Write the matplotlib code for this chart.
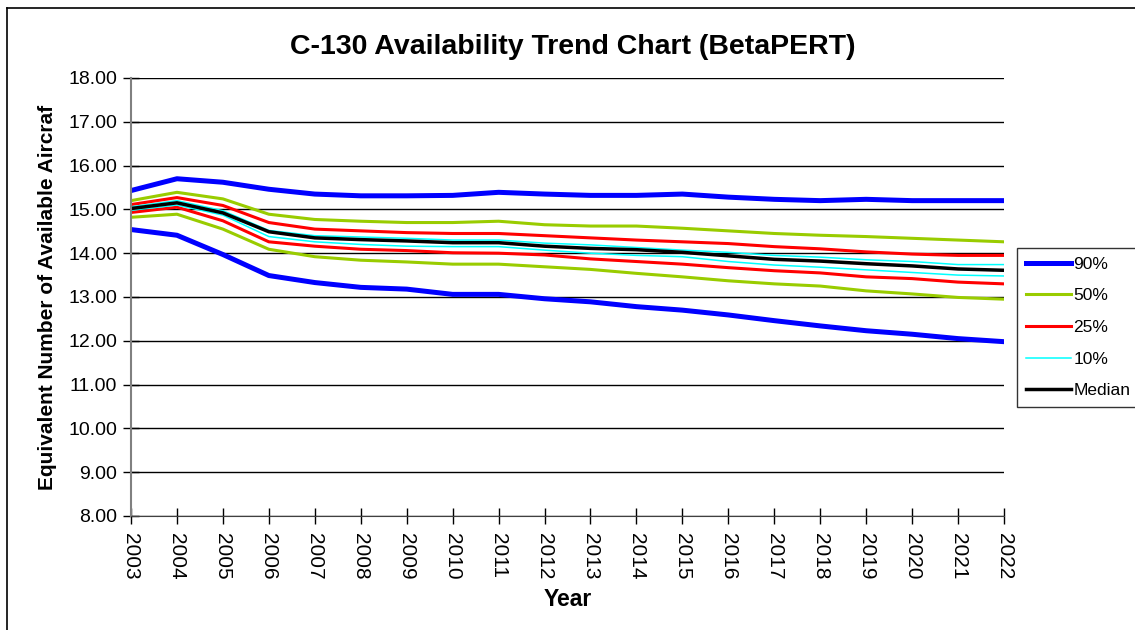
import matplotlib.pyplot as plt
from matplotlib.lines import Line2D

plt.rcParams['font.family'] = ['Liberation Sans', 'DejaVu Sans']

years = list(range(2003, 2023))

p90_hi = [15.43, 15.70, 15.62, 15.46, 15.35, 15.31, 15.31, 15.32, 15.39, 15.35,
          15.32, 15.32, 15.35, 15.28, 15.23, 15.20, 15.23, 15.20, 15.20, 15.20]
p90_lo = [14.54, 14.41, 13.97, 13.49, 13.33, 13.22, 13.18, 13.06, 13.06, 12.96,
          12.89, 12.78, 12.70, 12.59, 12.46, 12.34, 12.23, 12.15, 12.05, 11.98]
p50_hi = [15.20, 15.39, 15.24, 14.89, 14.77, 14.73, 14.70, 14.70, 14.73, 14.65,
          14.62, 14.62, 14.57, 14.51, 14.45, 14.41, 14.38, 14.34, 14.30, 14.26]
p50_lo = [14.82, 14.89, 14.55, 14.09, 13.92, 13.84, 13.80, 13.75, 13.75, 13.69,
          13.63, 13.54, 13.46, 13.37, 13.30, 13.25, 13.14, 13.07, 12.99, 12.95]
p25_hi = [15.11, 15.27, 15.09, 14.70, 14.55, 14.51, 14.47, 14.45, 14.45, 14.40,
          14.35, 14.30, 14.26, 14.22, 14.15, 14.10, 14.03, 13.98, 13.95, 13.95]
p25_lo = [14.93, 15.05, 14.74, 14.26, 14.16, 14.09, 14.06, 14.01, 14.00, 13.96,
          13.87, 13.81, 13.75, 13.67, 13.60, 13.55, 13.46, 13.42, 13.34, 13.30]
p10_hi = [15.06, 15.20, 14.97, 14.52, 14.40, 14.37, 14.34, 14.30, 14.30, 14.23,
          14.19, 14.13, 14.07, 14.02, 13.95, 13.91, 13.85, 13.81, 13.74, 13.74]
p10_lo = [14.98, 15.10, 14.87, 14.38, 14.26, 14.20, 14.16, 14.15, 14.15, 14.07,
          14.00, 13.95, 13.92, 13.81, 13.73, 13.68, 13.62, 13.56, 13.50, 13.48]
median = [15.02, 15.15, 14.92, 14.49, 14.35, 14.31, 14.28, 14.24, 14.24, 14.16,
          14.11, 14.08, 14.02, 13.94, 13.86, 13.82, 13.76, 13.71, 13.64, 13.61]

fig = plt.figure(figsize=(11.35, 6.3), dpi=100)
ax = fig.add_axes([131 / 1135, 1 - 516 / 630, 873 / 1135, 438 / 630])

# outer chart frame (only left and top edges are visible)
fig.add_artist(Line2D([7 / 1135, 7 / 1135], [0, 1 - 8 / 630], color='black', lw=1.2))
fig.add_artist(Line2D([7 / 1135, 1], [1 - 8 / 630, 1 - 8 / 630], color='black', lw=1.2))

ax.plot(years, p90_hi, color='#0000FF', lw=3.6, label='90%')
ax.plot(years, p90_lo, color='#0000FF', lw=3.6, label='_nolegend_')
ax.plot(years, p50_hi, color='#99CC00', lw=2.2, label='50%')
ax.plot(years, p50_lo, color='#99CC00', lw=2.2, label='_nolegend_')
ax.plot(years, p25_hi, color='#FF0000', lw=2.2, label='25%')
ax.plot(years, p25_lo, color='#FF0000', lw=2.2, label='_nolegend_')
ax.plot(years, p10_hi, color='#00FFFF', lw=1.1, label='10%')
ax.plot(years, p10_lo, color='#00FFFF', lw=1.1, label='_nolegend_')
ax.plot(years, median, color='black', lw=2.5, label='Median')

ax.set_xlim(2003, 2022)
ax.set_ylim(8, 18)
ax.set_xticks(years)
ax.set_xticklabels([str(y) for y in years], rotation=270, fontsize=15)
ax.set_yticks(range(8, 19))
ax.set_yticklabels(['%.2f' % v for v in range(8, 19)], fontsize=14)
ax.tick_params(direction='inout', length=12, width=1, pad=4)
ax.tick_params(axis='x', pad=6)
ax.grid(axis='y', color='black', lw=1)
ax.set_axisbelow(True)
for s in ['top', 'right']:
    ax.spines[s].set_visible(False)
ax.spines['left'].set_color('#808080')
ax.spines['left'].set_linewidth(1.5)
ax.spines['bottom'].set_color('#404040')

ax.set_xlabel('Year', fontsize=16.5, fontweight='bold', labelpad=6)
ax.set_ylabel('Equivalent Number of Available Aircraf', fontsize=15,
              fontweight='bold', labelpad=8)
fig.text(573 / 1135, 1 - 47 / 630, 'C-130 Availability Trend Chart (BetaPERT)',
         ha='center', va='center', fontsize=20.5, fontweight='bold')

leg = fig.legend(loc='upper left', bbox_to_anchor=(1017 / 1135, 1 - 248 / 630),
                 borderaxespad=0, fontsize=12.5, frameon=True, fancybox=False,
                 edgecolor='black', handlelength=2.6, handletextpad=0.15,
                 labelspacing=0.95, borderpad=0.5)
leg.get_frame().set_linewidth(1)

fig.savefig('out.png', dpi=100)
